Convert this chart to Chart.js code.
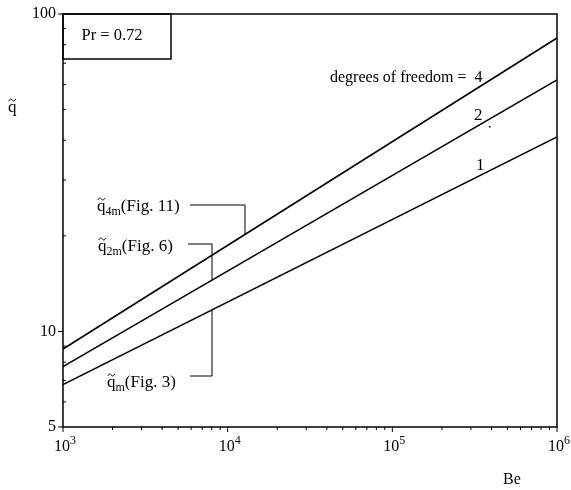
<!DOCTYPE html>
<html>
<head>
<meta charset="utf-8">
<script src="https://cdn.jsdelivr.net/npm/chart.js@4/dist/chart.umd.min.js"></script>
<style>
  html, body { margin: 0; padding: 0; background: #fff; }
  #wrap { width: 571px; height: 490px; }
</style>
</head>
<body>
<div id="wrap"><canvas id="grafico"></canvas></div>
<script>
// dados (log-log)
const beValues = [1e3, 1e6];
const q4 = [8.8, 84];
const q2 = [7.75, 62];
const q1 = [6.8, 41];

const xMajor = [1e3, 1e4, 1e5, 1e6];
const xExpoentes = ['3', '4', '5', '6'];
const yMajor = [5, 10, 100];
const yMinor = [6, 7, 8, 9, 20, 30, 40, 50, 60, 70, 80, 90];

const FONTE = '"Liberation Serif", "DejaVu Serif", serif';

function pontos(ys) {
  return beValues.map((x, i) => ({ x: x, y: ys[i] }));
}

// til desenhado à mão (mais largo que o glifo)
function til(ctx, cx, cy) {
  ctx.save();
  ctx.lineWidth = 1;
  ctx.beginPath();
  ctx.moveTo(cx - 3.5, cy + 1);
  ctx.bezierCurveTo(cx - 2, cy - 2, cx - 0.5, cy - 1, cx, cy);
  ctx.bezierCurveTo(cx + 0.5, cy + 1, cx + 2, cy + 2, cx + 3.5, cy - 1);
  ctx.stroke();
  ctx.restore();
}

// desenha q com til e subscrito, depois o resto do texto
function desenhaQ(ctx, x, y, sub, resto) {
  ctx.font = '17px ' + FONTE;
  ctx.textAlign = 'left';
  ctx.textBaseline = 'alphabetic';
  ctx.fillText('q', x, y);
  const wq = ctx.measureText('q').width;
  til(ctx, x + wq / 2, y - 12);
  let cx = x + wq;
  if (sub) {
    ctx.font = '12px ' + FONTE;
    ctx.fillText(sub, cx, y + 4);
    cx += ctx.measureText(sub).width;
  }
  if (resto) {
    ctx.font = '17px ' + FONTE;
    ctx.fillText(resto, cx, y);
  }
}

const anotacoes = {
  id: 'anotacoes',
  afterDraw(chart) {
    const ctx = chart.ctx;
    const a = chart.chartArea;
    const xs = chart.scales.x;
    const ys = chart.scales.y;
    ctx.save();
    ctx.strokeStyle = '#000';
    ctx.fillStyle = '#000';
    ctx.lineWidth = 1.5;

    // moldura
    ctx.strokeRect(a.left, a.top, a.right - a.left, a.bottom - a.top);

    // ticks do eixo y
    ctx.lineWidth = 1;
    ctx.beginPath();
    yMajor.forEach(v => {
      const py = ys.getPixelForValue(v);
      ctx.moveTo(a.left - 5, py); ctx.lineTo(a.left, py);
    });
    yMinor.forEach(v => {
      const py = ys.getPixelForValue(v);
      ctx.moveTo(a.left, py); ctx.lineTo(a.left + 3, py);
    });
    // ticks do eixo x
    xMajor.forEach(v => {
      const px = xs.getPixelForValue(v);
      ctx.moveTo(px, a.bottom); ctx.lineTo(px, a.bottom + 5);
    });
    for (let d = 3; d < 6; d++) {
      for (let m = 2; m <= 9; m++) {
        const px = xs.getPixelForValue(m * Math.pow(10, d));
        ctx.moveTo(px, a.bottom); ctx.lineTo(px, a.bottom + 3);
      }
    }
    ctx.stroke();

    // rótulos do eixo y
    ctx.font = '16px ' + FONTE;
    ctx.textAlign = 'right';
    ctx.textBaseline = 'middle';
    yMajor.forEach(v => {
      ctx.fillText(String(v), a.left - 7, ys.getPixelForValue(v));
    });

    // rótulos do eixo x (10 com expoente)
    xMajor.forEach((v, i) => {
      const px = xs.getPixelForValue(v);
      ctx.font = '16px ' + FONTE;
      ctx.textAlign = 'right';
      ctx.textBaseline = 'alphabetic';
      ctx.fillText('10', px + 7, a.bottom + 24);
      ctx.font = '12px ' + FONTE;
      ctx.textAlign = 'left';
      ctx.fillText(xExpoentes[i], px + 7, a.bottom + 17);
    });

    // títulos dos eixos
    ctx.font = '16px ' + FONTE;
    ctx.textAlign = 'center';
    ctx.fillText('Be', 512, 484);
    desenhaQ(ctx, 8, 112, '', '');

    // caixa Pr
    ctx.lineWidth = 1.5;
    ctx.strokeRect(a.left, a.top, 108, 45);
    ctx.font = '16.5px ' + FONTE;
    ctx.textAlign = 'center';
    ctx.textBaseline = 'middle';
    ctx.fillText('Pr = 0.72', a.left + 49, a.top + 22);

    // rótulos das curvas
    ctx.font = '16px ' + FONTE;
    ctx.textAlign = 'left';
    ctx.fillText('degrees of freedom =  4', 330, 78);
    ctx.font = '17px ' + FONTE;
    ctx.fillText('2', 474, 116);
    ctx.fillText('1', 476, 166);
    ctx.fillRect(489, 126, 1.5, 1.5);

    // chamadas com linhas de ligação
    ctx.textBaseline = 'alphabetic';
    desenhaQ(ctx, 97, 211, '4m', '(Fig. 11)');
    desenhaQ(ctx, 98, 251, '2m', '(Fig. 6)');
    desenhaQ(ctx, 107, 387, 'm', '(Fig. 3)');

    ctx.lineWidth = 1;
    ctx.beginPath();
    ctx.moveTo(190, 205); ctx.lineTo(245, 205); ctx.lineTo(245, 234);
    ctx.moveTo(188, 244); ctx.lineTo(212, 244); ctx.lineTo(212, 280);
    ctx.moveTo(190, 376); ctx.lineTo(212, 376); ctx.lineTo(212, 310);
    ctx.stroke();

    ctx.restore();
  }
};

const serie = (ys) => ({
  data: pontos(ys),
  borderColor: '#000',
  borderWidth: 1.6,
  pointRadius: 0,
  fill: false,
  tension: 0
});

new Chart(document.getElementById('grafico'), {
  type: 'line',
  data: {
    datasets: [serie(q4), serie(q2), serie(q1)]
  },
  options: {
    responsive: true,
    maintainAspectRatio: false,
    animation: false,
    layout: { padding: { left: 63, right: 14, top: 14, bottom: 63 } },
    plugins: { legend: { display: false }, tooltip: { enabled: false } },
    scales: {
      x: {
        type: 'logarithmic',
        min: 1e3, max: 1e6,
        grid: { display: false, drawTicks: false },
        border: { display: false },
        ticks: { display: false }
      },
      y: {
        type: 'logarithmic',
        min: 5, max: 100,
        grid: { display: false, drawTicks: false },
        border: { display: false },
        ticks: { display: false }
      }
    }
  },
  plugins: [anotacoes]
});
</script>
</body>
</html>
